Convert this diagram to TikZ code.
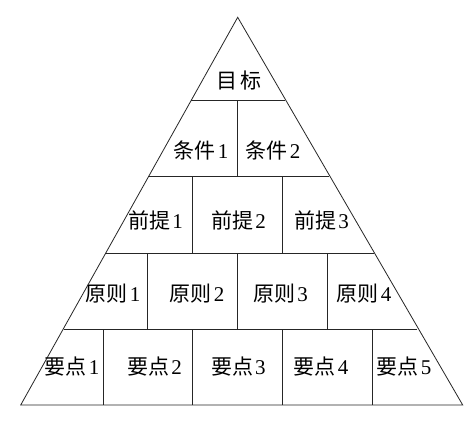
\documentclass[tikz,border=0pt]{standalone}
\usepackage{fontspec}
\setmainfont{Liberation Serif}
\newfontfamily\cjk{Noto Sans CJK SC}
\newcommand{\lab}[2]{{\cjk #1}\hspace{2pt}{\rmfamily #2}}
\begin{document}
\begin{tikzpicture}[x=1pt,y=-1pt,
  edge/.style={draw=black!85,line width=0.8pt},
  lbl/.style={inner sep=0pt,font=\fontsize{21}{21}\selectfont}]
\useasboundingbox (0,0) rectangle (473,423);
\fill[white] (0,0) rectangle (473,423);
% outline
\coordinate (A) at (237.7,17.3);
\coordinate (BL) at (20.7,405);
\coordinate (BR) at (462.7,405);
\draw[edge] (BL) -- (A) -- (BR) -- cycle;
% horizontal row lines
\coordinate (h1l) at (191.3,100.7); \coordinate (h1r) at (285,100.7);
\coordinate (h2l) at (148.3,176.7); \coordinate (h2r) at (329,176.7);
\coordinate (h3l) at (105.8,253.3); \coordinate (h3r) at (374,253.3);
\coordinate (h4l) at (63.5,329); \coordinate (h4r) at (417.3,329);
\draw[edge] (h1l) -- (h1r);
\draw[edge] (h2l) -- (h2r);
\draw[edge] (h3l) -- (h3r);
\draw[edge] (h4l) -- (h4r);
% verticals
\draw[edge] (237.7,100.7) -- (237.7,176.7);
\draw[edge] (192.7,176.7) -- (192.7,253.3);
\draw[edge] (282.7,176.7) -- (282.7,253.3);
\draw[edge] (147,253.3) -- (147,329);
\draw[edge] (237.7,253.3) -- (237.7,329);
\draw[edge] (327.3,253.3) -- (327.3,329);
\draw[edge] (103,329) -- (103,405);
\draw[edge] (192.7,329) -- (192.7,405);
\draw[edge] (282.3,329) -- (282.3,405);
\draw[edge] (372.3,329) -- (372.3,405);
% labels
\node[lbl] (t0) at (239,81) {\cjk 目\hspace{3pt}标};
\node[lbl] (c1) at (201,150) {\lab{条件}{1}};
\node[lbl] (c2) at (273,150) {\lab{条件}{2}};
\node[lbl] (p1) at (155.5,220) {\lab{前提}{1}};
\node[lbl] (p2) at (238.7,220) {\lab{前提}{2}};
\node[lbl] (p3) at (321.7,220) {\lab{前提}{3}};
\node[lbl] (y1) at (113,294) {\lab{原则}{1}};
\node[lbl] (y2) at (197,294) {\lab{原则}{2}};
\node[lbl] (y3) at (280.5,294) {\lab{原则}{3}};
\node[lbl] (y4) at (364,294) {\lab{原则}{4}};
\node[lbl] (k1) at (72,367) {\lab{要点}{1}};
\node[lbl] (k2) at (154.7,367) {\lab{要点}{2}};
\node[lbl] (k3) at (238.3,367) {\lab{要点}{3}};
\node[lbl] (k4) at (321,367) {\lab{要点}{4}};
\node[lbl] (k5) at (404,367) {\lab{要点}{5}};
\end{tikzpicture}
\end{document}
